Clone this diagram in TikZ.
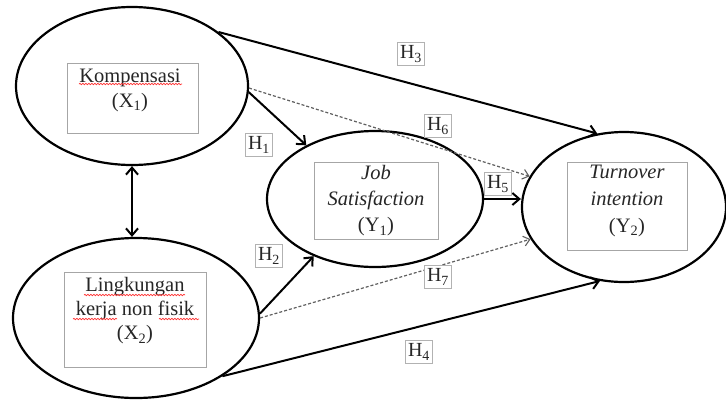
\documentclass[tikz,border=0pt]{standalone}
\usepackage{fontspec}
\setmainfont{Liberation Serif}
\usetikzlibrary{shapes.geometric,arrows.meta,decorations.pathmorphing}
\begin{document}
\begin{tikzpicture}[x=1pt,y=-1pt,
  var/.style={draw, line width=2.2pt, ellipse, inner sep=0pt, fill=white},
  inbox/.style={draw=gray!70, line width=0.8pt, inner sep=0pt},
  vtext/.style={align=center, text=black!85},
  hlab/.style={draw=gray!60, line width=1pt, fill=white, inner xsep=2.5pt, inner ysep=3pt, text=black!85, font=\fontsize{20}{20}\selectfont},
  barb/.tip={Straight Barb[length=7pt,width=12pt,line width=2pt]},
  smallbarb/.tip={Straight Barb[length=6pt,width=10pt,line width=1.1pt]},
  solidarr/.style={line width=2pt, -barb},
  dasharr/.style={line width=1.2pt, dash pattern=on 3pt off 2pt, draw=gray!75!black, -smallbarb},
  squig/.style={red!80, line width=0.7pt, decorate, decoration={snake, amplitude=0.7pt, segment length=3pt}}
]
\useasboundingbox (0,0) rectangle (726,400);

% latent variables
\node[var, minimum width=232pt, minimum height=158pt] (X1) at (132,86) {};
\node[var, minimum width=246pt, minimum height=160pt] (X2) at (136,318) {};
\node[var, minimum width=216pt, minimum height=136pt] (Y1) at (375,199) {};
\node[var, minimum width=204pt, minimum height=150pt] (Y2) at (624,207) {};

% inner boxes
\node[inbox, minimum width=131pt, minimum height=70pt] (X1box) at (132.5,98) {};
\node[inbox, minimum width=142pt, minimum height=95pt] (X2box) at (135,319.5) {};
\node[inbox, minimum width=124pt, minimum height=77pt] (Y1box) at (376,200.5) {};
\node[inbox, minimum width=120pt, minimum height=88pt] (Y2box) at (627,206) {};

% texts
\node[vtext, font=\fontsize{20.5}{25}\selectfont] (X1txt) at (130,90) {Kompensasi\\(X\textsubscript{1})};
\node[vtext, font=\fontsize{20.5}{24}\selectfont] (X2txt) at (135,311) {Lingkungan\\kerja non fisik\\(X\textsubscript{2})};
\node[vtext, font=\fontsize{20.5}{26}\selectfont] (Y1txt) at (376,201) {\textit{Job}\\\textit{Satisfaction}\\(Y\textsubscript{1})};
\node[vtext, font=\fontsize{20.5}{27}\selectfont] (Y2txt) at (627,200.5) {\textit{Turnover}\\\textit{intention}\\(Y\textsubscript{2})};

% spell-check squiggles
\draw[squig] (79,84) -- (182,84);
\draw[squig] (84,295) -- (185,295);
\draw[squig] (73,319) -- (117,319);
\draw[squig] (159,319) -- (199,319);

% connectors
\draw[line width=2pt, barb-barb] (X1.south) -- (X1.south |- X2.north);
\draw[solidarr] (X1.32) -- (Y2.110);
\draw[dasharr] (X1.-1) -- (Y2.162);
\draw[solidarr] (X1.-3) -- (Y1.142);
\draw[solidarr] (Y1.east) -- (Y1.east -| Y2.west);
\draw[solidarr] (X2.2) -- (Y1.223);
\draw[dasharr] (X2.0) -- (Y2.199);
\draw[solidarr] (X2.-34) -- (Y2.252);

% hypothesis labels
\node[hlab] (H3) at (411,54) {H\textsubscript{3}};
\node[hlab] (H6) at (438,126) {H\textsubscript{6}};
\node[hlab] (H1) at (259,145) {H\textsubscript{1}};
\node[hlab] (H5) at (498,184) {H\textsubscript{5}};
\node[hlab] (H2) at (269,256) {H\textsubscript{2}};
\node[hlab] (H7) at (438,277) {H\textsubscript{7}};
\node[hlab] (H4) at (419,352) {H\textsubscript{4}};
\end{tikzpicture}
\end{document}
